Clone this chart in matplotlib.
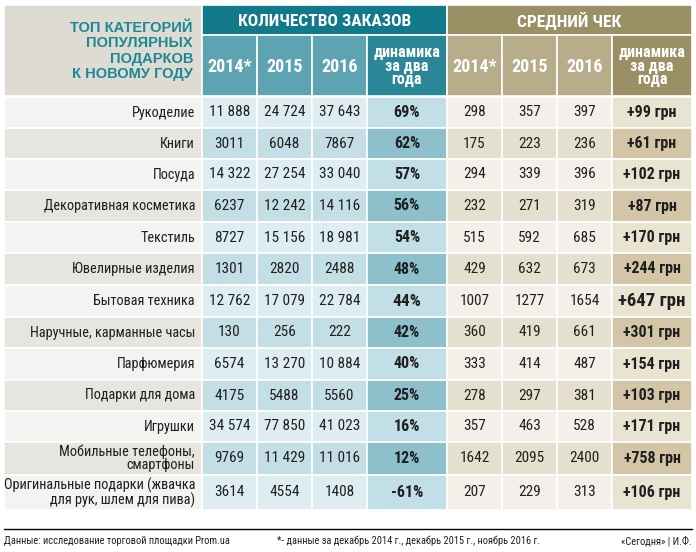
import matplotlib
matplotlib.use("Agg")
import matplotlib.pyplot as plt
from matplotlib import font_manager
from matplotlib.patches import Rectangle

# data
categories = ["Рукоделие", "Книги", "Посуда", "Декоративная косметика", "Текстиль",
              "Ювелирные изделия", "Бытовая техника", "Наручные, карманные часы",
              "Парфюмерия", "Подарки для дома", "Игрушки",
              "Мобильные телефоны,\nсмартфоны",
              "Оригинальные подарки (жвачка\nдля рук, шлем для пива)"]
orders_2014 = [11888, 3011, 14322, 6237, 8727, 1301, 12762, 130, 6574, 4175, 34574, 9769, 3614]
orders_2015 = [24724, 6048, 27254, 12242, 15156, 2820, 17079, 256, 13270, 5488, 77850, 11429, 4554]
orders_2016 = [37643, 7867, 33040, 14116, 18981, 2488, 22784, 222, 10884, 5560, 41023, 11016, 1408]
orders_growth = [69, 62, 57, 56, 54, 48, 44, 42, 40, 25, 16, 12, -61]
check_2014 = [298, 175, 294, 232, 515, 429, 1007, 360, 333, 278, 357, 1642, 207]
check_2015 = [357, 223, 339, 271, 592, 632, 1277, 419, 414, 297, 463, 2095, 229]
check_2016 = [397, 236, 396, 319, 685, 673, 1654, 661, 487, 381, 528, 2400, 313]
check_growth = [99, 61, 102, 87, 170, 244, 647, 301, 154, 103, 171, 758, 106]
year_labels = ["2014*", "2015", "2016"]

# fonts: a condensed face for the table, an Arial-like one for the title
names = {f.name for f in font_manager.fontManager.ttflist}
NARROW = dict(family="DejaVu Sans", fontstretch="condensed")
for cand in ["Roboto Condensed", "PT Sans Narrow", "Liberation Sans Narrow"]:
    if cand in names:
        NARROW = dict(family=cand)
        break
WIDE = dict(family="Liberation Sans" if "Liberation Sans" in names else "DejaVu Sans")

# layout (pixels)
col_x = [202, 257, 312, 367, 447, 502, 557, 612, 692]
row_y = [97, 128, 159, 190, 222, 253, 285, 317, 348, 380, 411, 442, 475, 510]
left_x = 4

teal_top, teal_sub, teal_dyn = "#11798a", "#5ea3b1", "#2b8797"
tan_top, tan_sub, tan_dyn = "#9b8f66", "#b8ad8b", "#9b8f66"
lab_bg = ["#f4f3f1", "#e7e5e0"]
teal_bg = ["#deedf1", "#c4dee5"]
teal_dyn_bg = ["#c2dee6", "#8ec0cc"]
tan_bg = ["#f3f0ea", "#e5dfcf"]
tan_dyn_bg = ["#e9e3d2", "#d2c6a6"]
title_col = "#1b8896"
txt = "#1f1f1f"


def fmt(v):
    s = str(abs(v))
    if len(s) > 4:
        s = s[:-3] + " " + s[-3:]
    return ("-" if v < 0 else "") + s


fig = plt.figure(figsize=(6.96, 5.52), dpi=100)
ax = fig.add_axes([0, 0, 1, 1])
ax.set_xlim(0, 696)
ax.set_ylim(552, 0)
ax.axis("off")


def box(x0, y0, x1, y1, c):
    ax.add_patch(Rectangle((x0, y0), x1 - x0, y1 - y0, facecolor=c,
                           edgecolor="white", linewidth=1.2))


# header
box(left_x, 5, col_x[0], 96, "#dedbd3")
ax.text(193, 51, "ТОП КАТЕГОРИЙ\nПОПУЛЯРНЫХ\nПОДАРКОВ\nК НОВОМУ ГОДУ", ha="right", va="center",
        color=title_col, fontsize=10.5, fontweight="bold", linespacing=1.1, **WIDE)

box(col_x[0], 5, col_x[4], 35, teal_top)
box(col_x[4], 5, col_x[8], 35, tan_top)
ax.text((col_x[0] + col_x[4]) / 2, 21, "КОЛИЧЕСТВО ЗАКАЗОВ", ha="center", va="center",
        color="white", fontsize=12.5, fontweight="bold", **NARROW)
ax.text((col_x[4] + col_x[8]) / 2, 21, "СРЕДНИЙ ЧЕК", ha="center", va="center",
        color="white", fontsize=12.5, fontweight="bold", **NARROW)

for g, (sub, dyn) in enumerate([(teal_sub, teal_dyn), (tan_sub, tan_dyn)]):
    base = g * 4
    for k in range(3):
        box(col_x[base + k], 35, col_x[base + k + 1], 96, sub)
        ax.text((col_x[base + k] + col_x[base + k + 1]) / 2, 67, year_labels[k],
                ha="center", va="center", color="white", fontsize=13,
                fontweight="bold", **NARROW)
    box(col_x[base + 3], 35, col_x[base + 4], 96, dyn)
    ax.text((col_x[base + 3] + col_x[base + 4]) / 2, 66, "динамика\nза два\nгода",
            ha="center", va="center", color="white", fontsize=11.5,
            fontweight="bold", linespacing=0.9, **NARROW)

# body
for i, cat in enumerate(categories):
    y0, y1 = row_y[i], row_y[i + 1]
    yc = (y0 + y1) / 2
    p = i % 2
    box(left_x, y0, col_x[0], y1, lab_bg[p])
    ax.text(195, yc, cat, ha="right", va="center", color=txt, fontsize=10.3,
            linespacing=0.95, **NARROW)

    cells = [orders_2014[i], orders_2015[i], orders_2016[i]]
    for k, v in enumerate(cells):
        box(col_x[k], y0, col_x[k + 1], y1, teal_bg[p])
        ax.text((col_x[k] + col_x[k + 1]) / 2, yc, fmt(v), ha="center", va="center",
                color=txt, fontsize=11, **NARROW)
    big = cat == "Бытовая техника"
    box(col_x[3], y0, col_x[4], y1, teal_dyn_bg[p])
    ax.text((col_x[3] + col_x[4]) / 2, yc, f"{orders_growth[i]}%", ha="center",
            va="center", color=txt, fontsize=12.5 if big else 11.5, fontweight="bold",
            **NARROW)

    cells = [check_2014[i], check_2015[i], check_2016[i]]
    for k, v in enumerate(cells):
        box(col_x[4 + k], y0, col_x[5 + k], y1, tan_bg[p])
        ax.text((col_x[4 + k] + col_x[5 + k]) / 2, yc, fmt(v), ha="center", va="center",
                color=txt, fontsize=11, **NARROW)
    box(col_x[7], y0, col_x[8], y1, tan_dyn_bg[p])
    ax.text((col_x[7] + col_x[8]) / 2, yc, f"+{check_growth[i]} грн", ha="center",
            va="center", color=txt, fontsize=13.5 if big else 11.5, fontweight="bold",
            **NARROW)

# footer
ax.plot([left_x, 692], [529, 529], color="black", linewidth=1)
ax.text(left_x, 541, "Данные: исследование торговой площадки Prom.ua", ha="left",
        va="center", fontsize=7.5, color=txt, **NARROW)
ax.text(277, 541, "*- данные за декабрь 2014 г., декабрь 2015 г., ноябрь 2016 г.",
        ha="left", va="center", fontsize=7.5, color=txt, **NARROW)
ax.text(692, 541, "«Сегодня» | И.Ф.", ha="right", va="center", fontsize=7.5,
        color=txt, **NARROW)

fig.savefig("out.png", dpi=100, facecolor="white")
